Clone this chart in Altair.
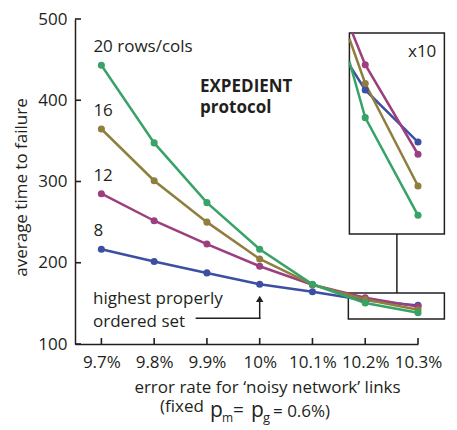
import altair as alt
import pandas as pd

# ---- data ----
err_rates = [9.7, 9.8, 9.9, 10.0, 10.1, 10.2, 10.3]
sizes = ["8", "12", "16", "20"]
labels = ["8", "12", "16", "20 rows/cols"]
ttf_8 = [216.6, 201.5, 187.5, 173.6, 164.2, 153.9, 147.5]
ttf_12 = [285.0, 251.7, 223.0, 195.7, 173.0, 157.0, 146.0]
ttf_16 = [364.6, 301.0, 250.0, 204.7, 173.0, 154.7, 142.1]
ttf_20 = [443.0, 347.5, 274.0, 216.6, 173.5, 150.5, 138.5]
colors = ["#3c4fa3", "#9c3f7f", "#8f7e3d", "#37a366"]
y_ticks = [100, 200, 300, 400, 500]

series = [ttf_8, ttf_12, ttf_16, ttf_20]
rows = []
for s, lab, vals in zip(sizes, labels, series):
    for e, v in zip(err_rates, vals):
        rows.append({"size": s, "label": lab, "err": e, "ttf": v})
df = pd.DataFrame(rows)

FONT = "Open Sans"
INK = "#231f20"

X_DOM = [9.65, 10.3]
Y_DOM = [100, 500]
# inward tick lengths, in data units (about 6 px)
TICK_DX = 0.0114
TICK_DY = 7.4

# zoomed region (main units) and inset placement
ZX0, ZX1 = 10.17, 10.35
ZY0, ZY1 = 130.8, 162.8
INSET_Y0, INSET_Y1 = 235.4, 482.8
INSET_DOM = [136.2, 160.9]
INSET_RANGE = [215, 14]

xscale = alt.Scale(domain=X_DOM, nice=False, zero=False)
yscale = alt.Scale(domain=Y_DOM, nice=False, zero=False)
cscale = alt.Scale(domain=sizes, range=colors)

xaxis = alt.Axis(values=err_rates, labelExpr="datum.value + '%'", labelOverlap=False,
                 labelFlush=False, ticks=False, grid=False, labelPadding=10,
                 title="error rate for \u2018noisy network\u2019 links",
                 titleX=192, titleY=48, titleBaseline="alphabetic", titleAlign="center")
yaxis = alt.Axis(values=y_ticks, ticks=False, grid=False, labelPadding=8, labelOverlap=False,
                 labelFlush=False,
                 title="average time to failure",
                 titleX=-49, titleY=168, titleAngle=270,
                 titleBaseline="alphabetic", titleAlign="center")


def X(field=None, datum=None):
    if datum is not None:
        return alt.X(datum=datum, scale=xscale, axis=xaxis)
    return alt.X(field, scale=xscale, axis=xaxis)


def Y(field=None, datum=None):
    if datum is not None:
        return alt.Y(datum=datum, scale=yscale, axis=yaxis)
    return alt.Y(field, scale=yscale, axis=yaxis)


base = alt.Chart(df)
col = alt.Color("size:N", scale=cscale, legend=None)

lines = base.mark_line(strokeWidth=2.5).encode(x=X("err:Q"), y=Y("ttf:Q"), color=col)
points = base.mark_circle(size=50, opacity=1).encode(x=X("err:Q"), y=Y("ttf:Q"), color=col)
series_labels = base.transform_filter(alt.datum.err == 9.7).mark_text(
    align="left", baseline="middle", dx=-8, dy=-18, font=FONT, fontSize=17, color=INK
).encode(x=X("err:Q"), y=Y("ttf:Q"), text="label:N")

# boxes and connector
small_box = alt.Chart().mark_rect(fill=None, stroke=INK, strokeWidth=1.5).encode(
    x=X(datum=ZX0 - 0.002), x2=alt.X2(datum=ZX1), y=Y(datum=ZY0), y2=alt.Y2(datum=ZY1))
inset_box = alt.Chart().mark_rect(fill="white", stroke=INK, strokeWidth=1.5).encode(
    x=X(datum=ZX0), x2=alt.X2(datum=ZX1), y=Y(datum=INSET_Y0), y2=alt.Y2(datum=INSET_Y1))
connector = alt.Chart().mark_rule(color=INK, strokeWidth=1.5).encode(
    x=X(datum=10.26), y=Y(datum=INSET_Y0), y2=alt.Y2(datum=ZY1))

# arrow
arrow_h = alt.Chart().mark_rule(color=INK, strokeWidth=1.5, strokeCap="square").encode(
    x=X(datum=9.88), x2=alt.X2(datum=10.0), y=Y(datum=131.6))
arrow_v = alt.Chart().mark_rule(color=INK, strokeWidth=1.5, strokeCap="square").encode(
    x=X(datum=10.0), y=Y(datum=131.6), y2=alt.Y2(datum=153.0))
arrow_head = alt.Chart().mark_point(shape="triangle-up", filled=True, size=55, color=INK, opacity=1).encode(
    x=X(datum=10.0), y=Y(datum=155.5))


def txt(t, x, y, size=17, weight="normal", align="left", baseline="middle"):
    return alt.Chart().mark_text(text=t, font=FONT, fontSize=size, fontWeight=weight,
                                 align=align, baseline=baseline, color=INK).encode(
        x=alt.value(x), y=alt.value(y))


annotations = [
    txt("EXPEDIENT", 125, 68, size=17, weight="bold"),
    txt("protocol", 125, 89, size=17, weight="bold"),
    txt("x10", 333, 33),
    txt("highest properly", 18, 280),
    txt("ordered set", 18, 303),
    txt("(fixed", 85, 393, size=17, baseline="alphabetic"),
    txt("p", 135, 398, size=21, baseline="alphabetic"),
    txt("m", 147, 403, size=12, baseline="alphabetic"),
    txt("=", 158, 397, size=19, baseline="alphabetic"),
    txt("p", 176, 398, size=21, baseline="alphabetic"),
    txt("g", 188, 403, size=13, baseline="alphabetic"),
    txt("= 0.6%)", 198, 398, size=17, baseline="alphabetic"),
]

main = alt.layer(small_box, connector, inset_box, arrow_h, arrow_v, arrow_head,
                 lines, points, series_labels, *annotations)

# inset (x10 in y): lines clipped to the inset's left and top edges
iscale = alt.Scale(domain=INSET_DOM, range=INSET_RANGE, nice=False, zero=False)
inset_src = alt.Chart(df).transform_filter(alt.datum.err >= 10.09)
inset_lines = inset_src.transform_window(
    nx="lead(err)", nv="lead(ttf)", groupby=["size"], sort=[alt.SortField("err")]
).transform_calculate(
    cx=f"datum.err < {ZX0} ? {ZX0} : datum.err",
    cy=f"datum.err < {ZX0} ? datum.ttf + ({ZX0} - datum.err) / (datum.nx - datum.err) * (datum.nv - datum.ttf) : datum.ttf",
).transform_calculate(
    cx2=f"datum.cy > {INSET_DOM[1]} ? datum.err + ({INSET_DOM[1]} - datum.ttf) / (datum.nv - datum.ttf) * (datum.nx - datum.err) : datum.cx",
    cy2=f"min(datum.cy, {INSET_DOM[1]})",
).mark_line(strokeWidth=2.5).encode(
    x=X("cx2:Q"),
    y=alt.Y("cy2:Q", scale=iscale, axis=None),
    color=col,
)
inset_points = inset_src.transform_filter(alt.datum.err >= 10.15).mark_circle(size=50, opacity=1).encode(
    x=X("err:Q"),
    y=alt.Y("ttf:Q", scale=iscale, axis=None),
    color=col,
)
inset = alt.layer(inset_lines, inset_points)

# inward ticks, drawn last on top of everything
xt = alt.Chart(pd.DataFrame({"err": err_rates})).mark_rule(color=INK, strokeWidth=1.6).encode(
    x=X("err:Q"),
    y=alt.Y(datum=Y_DOM[0], scale=yscale, axis=None),
    y2=alt.Y2(datum=Y_DOM[0] + TICK_DY))
yt = alt.Chart(pd.DataFrame({"ttf": y_ticks})).mark_rule(color=INK, strokeWidth=1.6).encode(
    y=alt.Y("ttf:Q", scale=yscale, axis=None),
    x=X(datum=X_DOM[0]), x2=alt.X2(datum=X_DOM[0] + TICK_DX))
ticks = alt.layer(xt, yt)

chart = alt.layer(main, inset, ticks).resolve_scale(y="independent").properties(
    width=343, height=325,
    autosize=alt.AutoSizeParams(type="none"),
    padding={"left": 67, "top": 11, "right": 31, "bottom": 86},
).configure_view(stroke=None).configure_axis(
    domainColor=INK, domainWidth=1.5, labelFont=FONT, labelFontSize=17, labelColor=INK,
    titleFont=FONT, titleFontSize=17, titleFontWeight="normal", titleColor=INK,
)

chart.save("out.html", embed_options={"renderer": "svg", "actions": False})
